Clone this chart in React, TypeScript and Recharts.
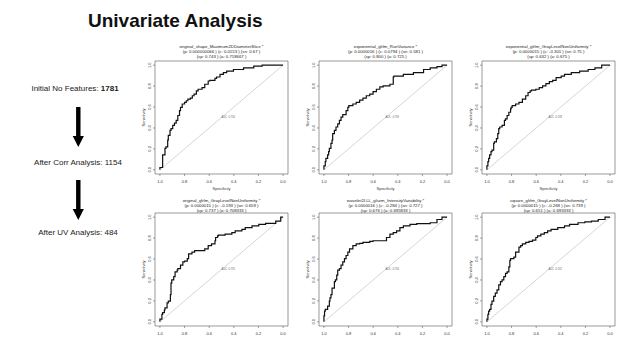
import { LineChart, Line, XAxis, YAxis, ReferenceArea, ReferenceLine, ReferenceDot } from "recharts";

const ticks = [0, 0.2, 0.4, 0.6, 0.8, 1];

// ROC curves (specificity, sensitivity)
const shapeSpec = [1.0, 0.978, 0.978, 0.959, 0.951, 0.937, 0.932, 0.918, 0.91, 0.896, 0.882, 0.868, 0.855, 0.841, 0.833, 0.819, 0.8, 0.786, 0.773, 0.753, 0.737, 0.723, 0.704, 0.69, 0.658, 0.636, 0.608, 0.595, 0.553, 0.54, 0.512, 0.485, 0.458, 0.403, 0.321, 0.238, 0.17, 0.06, 0.0];
const shapeSens = [0.0, 0.022, 0.126, 0.142, 0.204, 0.22, 0.283, 0.33, 0.377, 0.393, 0.425, 0.447, 0.472, 0.519, 0.566, 0.597, 0.629, 0.645, 0.66, 0.676, 0.686, 0.708, 0.723, 0.755, 0.77, 0.786, 0.818, 0.849, 0.855, 0.874, 0.887, 0.912, 0.928, 0.943, 0.959, 0.975, 0.991, 1.0, 1.0];

const runVarSpec = [1.0, 0.989, 0.984, 0.97, 0.962, 0.956, 0.943, 0.934, 0.929, 0.915, 0.902, 0.888, 0.874, 0.861, 0.847, 0.82, 0.806, 0.798, 0.765, 0.738, 0.71, 0.683, 0.656, 0.628, 0.601, 0.574, 0.546, 0.519, 0.464, 0.437, 0.432, 0.355, 0.273, 0.191, 0.137, 0.082, 0.041, 0.0];
const runVarSens = [0.0, 0.038, 0.079, 0.11, 0.142, 0.173, 0.204, 0.252, 0.283, 0.346, 0.377, 0.409, 0.44, 0.472, 0.503, 0.528, 0.566, 0.597, 0.613, 0.629, 0.645, 0.667, 0.686, 0.708, 0.723, 0.748, 0.77, 0.792, 0.802, 0.818, 0.887, 0.896, 0.912, 0.928, 0.959, 0.975, 0.987, 1.0];

const expGlnSpec = [1.0, 0.992, 0.986, 0.978, 0.967, 0.959, 0.945, 0.94, 0.923, 0.912, 0.904, 0.896, 0.877, 0.858, 0.849, 0.836, 0.822, 0.808, 0.803, 0.795, 0.767, 0.74, 0.712, 0.685, 0.666, 0.649, 0.638, 0.603, 0.575, 0.548, 0.521, 0.493, 0.466, 0.438, 0.397, 0.37, 0.315, 0.247, 0.178, 0.123, 0.068, 0.0];
const expGlnSens = [0.0, 0.038, 0.079, 0.11, 0.142, 0.173, 0.189, 0.252, 0.267, 0.299, 0.346, 0.393, 0.409, 0.425, 0.472, 0.487, 0.519, 0.55, 0.582, 0.597, 0.613, 0.629, 0.645, 0.676, 0.708, 0.739, 0.755, 0.761, 0.77, 0.786, 0.802, 0.824, 0.843, 0.855, 0.881, 0.896, 0.912, 0.928, 0.943, 0.959, 0.975, 1.0];

const origGlnSpec = [1.0, 0.984, 0.978, 0.964, 0.959, 0.942, 0.932, 0.915, 0.91, 0.904, 0.888, 0.877, 0.86, 0.855, 0.833, 0.814, 0.8, 0.778, 0.767, 0.74, 0.718, 0.677, 0.636, 0.608, 0.581, 0.553, 0.548, 0.532, 0.526, 0.471, 0.416, 0.389, 0.334, 0.307, 0.252, 0.197, 0.142, 0.06, 0.019, 0.0];
const origGlnSens = [0.0, 0.025, 0.072, 0.088, 0.113, 0.134, 0.181, 0.197, 0.259, 0.369, 0.4, 0.431, 0.478, 0.494, 0.509, 0.541, 0.572, 0.581, 0.603, 0.65, 0.666, 0.681, 0.681, 0.697, 0.728, 0.744, 0.775, 0.806, 0.822, 0.828, 0.838, 0.853, 0.869, 0.884, 0.9, 0.916, 0.931, 0.941, 0.963, 1.0];

const waveletSpec = [1.0, 0.995, 0.989, 0.97, 0.956, 0.951, 0.943, 0.934, 0.929, 0.915, 0.907, 0.896, 0.888, 0.874, 0.861, 0.847, 0.833, 0.82, 0.806, 0.792, 0.765, 0.738, 0.71, 0.683, 0.628, 0.601, 0.546, 0.492, 0.464, 0.437, 0.41, 0.383, 0.355, 0.301, 0.246, 0.137, 0.082, 0.041, 0.0];
const waveletSens = [0.0, 0.056, 0.103, 0.119, 0.15, 0.197, 0.228, 0.259, 0.322, 0.322, 0.384, 0.4, 0.447, 0.494, 0.509, 0.541, 0.572, 0.603, 0.634, 0.666, 0.697, 0.728, 0.744, 0.75, 0.759, 0.769, 0.775, 0.775, 0.806, 0.838, 0.853, 0.869, 0.9, 0.916, 0.931, 0.938, 0.947, 0.978, 1.0];

const squareSpec = [1.0, 0.992, 0.986, 0.978, 0.967, 0.959, 0.945, 0.932, 0.918, 0.904, 0.89, 0.877, 0.863, 0.849, 0.836, 0.822, 0.814, 0.808, 0.781, 0.767, 0.74, 0.726, 0.712, 0.685, 0.658, 0.63, 0.603, 0.589, 0.562, 0.534, 0.507, 0.479, 0.425, 0.37, 0.329, 0.26, 0.205, 0.151, 0.096, 0.041, 0.0];
const squareSens = [0.0, 0.025, 0.072, 0.103, 0.119, 0.166, 0.197, 0.244, 0.275, 0.306, 0.353, 0.384, 0.4, 0.431, 0.463, 0.478, 0.525, 0.588, 0.603, 0.619, 0.666, 0.713, 0.728, 0.744, 0.759, 0.769, 0.781, 0.806, 0.822, 0.838, 0.853, 0.869, 0.884, 0.9, 0.916, 0.931, 0.947, 0.956, 0.963, 0.978, 1.0];

const featureNames = [
  "original_shape_Maximum2DDiameterSlice *",
  "exponential_glrlm_RunVariance *",
  "exponential_glrlm_GrayLevelNonUniformity *",
  "original_glrlm_GrayLevelNonUniformity *",
  "wavelet2LLL_glszm_IntensityVariability *",
  "square_glrlm_GrayLevelNonUniformity *",
];
const statLines1 = [
  "(p: 0.000000066 ) (c: 0.0153 ) (sn: 0.67 )",
  "(p: 0.0000016 ) (c: 0.0794 ) (sn: 0.581 )",
  "(p: 0.0000015 ) (c: -0.301 ) (sn: 0.75 )",
  "(p: 0.0000015 ) (c: -0.193 ) (sn: 0.659 )",
  "(p: 0.0000016 ) (c: -0.284 ) (sn: 0.727 )",
  "(p: 0.0000015 ) (c: -0.268 ) (sn: 0.739 )",
];
const statLines2 = [
  "(sp: 0.743 ) (a: 0.718667 )",
  "(sp: 0.800 ) (a: 0.725 )",
  "(sp: 0.632 ) (a: 0.675 )",
  "(sp: 0.737 ) (a: 0.708333 )",
  "(sp: 0.676 ) (a: 0.695833 )",
  "(sp: 0.651 ) (a: 0.693333 )",
];
const aucLabels = ["AUC: 0.756", "AUC: 0.739", "AUC: 0.748", "AUC: 0.735", "AUC: 0.734", "AUC: 0.742"];

const curves = [
  [shapeSpec, shapeSens],
  [runVarSpec, runVarSens],
  [expGlnSpec, expGlnSens],
  [origGlnSpec, origGlnSens],
  [waveletSpec, waveletSens],
  [squareSpec, squareSens],
];

const frameLefts = [155, 319, 482];
const frameTops = [61, 213];
const titleTops = [46, 200];
const FRAME_W = 133;
const FRAME_H = 113;
const font = "'Liberation Sans', Arial, sans-serif";

const XTick = ({ x, y, payload }: any) => (
  <text x={x} y={y + 3} textAnchor="middle" dominantBaseline="central" fontSize={4} fill="#333" fontFamily={font}>
    {Number(payload.value).toFixed(1)}
  </text>
);

const YTick = ({ x, y, payload }: any) => (
  <text
    x={x - 1}
    y={y}
    transform={`rotate(-90, ${x - 1}, ${y})`}
    textAnchor="middle"
    dominantBaseline="central"
    fontSize={4}
    fill="#333"
    fontFamily={font}
  >
    {Number(payload.value).toFixed(1)}
  </text>
);

function RocPanel({ idx }: { idx: number }) {
  const left = frameLefts[idx % 3];
  const top = frameTops[Math.floor(idx / 3)];
  const titleY = titleTops[Math.floor(idx / 3)];
  const [spec, sens] = curves[idx];
  const data = spec.map((s, i) => ({ spec: s, sens: sens[i] }));

  return (
    <>
      <div
        style={{
          position: "absolute",
          left: left - 20,
          width: FRAME_W + 40,
          top: titleY - 2.5,
          textAlign: "center",
          fontSize: 4.3,
          lineHeight: "5px",
          color: "#222",
          fontFamily: font,
          whiteSpace: "nowrap",
        }}
      >
        {featureNames[idx]}
        <br />
        {statLines1[idx]}
        <br />
        {statLines2[idx]}
      </div>
      <div style={{ position: "absolute", left: left - 17, top: top - 2 }}>
        <LineChart width={17 + FRAME_W + 2} height={2 + FRAME_H + 18} data={data} margin={{ top: 2, right: 2, bottom: 0, left: 0 }}>
          <XAxis
            type="number"
            dataKey="spec"
            domain={[-0.04, 1.04]}
            ticks={ticks}
            reversed
            allowDataOverflow
            axisLine={false}
            tickSize={2}
            tickLine={{ stroke: "#444", strokeWidth: 0.5 }}
            height={18}
            tick={XTick}
            interval={0}
            label={{ value: "Specificity", position: "insideBottom", offset: 2, fontSize: 4, fill: "#333" }}
          />
          <YAxis
            type="number"
            domain={[-0.04, 1.04]}
            ticks={ticks}
            allowDataOverflow
            axisLine={false}
            tickSize={2}
            tickLine={{ stroke: "#444", strokeWidth: 0.5 }}
            width={17}
            tick={YTick}
            interval={0}
            label={{
              content: ({ viewBox }: any) => {
                const lx = viewBox.x + 5;
                const ly = viewBox.y + viewBox.height / 2;
                return (
                  <text
                    x={lx}
                    y={ly}
                    transform={`rotate(-90, ${lx}, ${ly})`}
                    textAnchor="middle"
                    dominantBaseline="central"
                    fontSize={4}
                    fill="#333"
                    fontFamily={font}
                  >
                    Sensitivity
                  </text>
                );
              },
            }}
          />
          <ReferenceArea x1={-0.04} x2={1.04} y1={-0.04} y2={1.04} fill="none" fillOpacity={0} stroke="#555" strokeWidth={0.6} ifOverflow="visible" />
          <ReferenceLine segment={[{ x: 1, y: 0 }, { x: 0, y: 1 }]} stroke="#c4c4c4" strokeWidth={0.7} />
          <ReferenceDot
            x={0.5}
            y={0.5}
            r={0.01}
            fill="none"
            stroke="none"
            label={{ value: aucLabels[idx], position: "right", offset: 0, fontSize: 2.6, fill: "#666" }}
          />
          <Line type="stepBefore" dataKey="sens" stroke="#111" strokeWidth={1.2} dot={false} isAnimationActive={false} />
        </LineChart>
      </div>
    </>
  );
}

function Arrow({ x, y1, y2 }: { x: number; y1: number; y2: number }) {
  const head = 11;
  return (
    <polygon
      points={`${x - 2.2},${y1} ${x + 2.2},${y1} ${x + 2.2},${y2 - head} ${x + 5.6},${y2 - head} ${x},${y2} ${x - 5.6},${y2 - head} ${x - 2.2},${y2 - head}`}
      fill="#000"
    />
  );
}

const flowText: React.CSSProperties = {
  position: "absolute",
  width: 150,
  textAlign: "center",
  fontSize: 8,
  lineHeight: "8px",
  color: "#222",
  fontFamily: font,
  whiteSpace: "nowrap",
};

export default function App() {
  return (
    <div style={{ position: "absolute", left: 0, top: 0, width: 623, height: 338, background: "#fff", overflow: "hidden", fontFamily: font }}>
      <div style={{ position: "absolute", left: 88, top: 11, fontSize: 19, lineHeight: "19px", fontWeight: "bold", color: "#111", whiteSpace: "nowrap" }}>
        Univariate Analysis
      </div>
      <div style={{ ...flowText, left: 75 - 75, top: 85 }}>
        Initial No Features: <b>1781</b>
      </div>
      <div style={{ ...flowText, left: 78 - 75, top: 159 }}>After Corr Analysis: 1154</div>
      <div style={{ ...flowText, left: 78 - 75, top: 229 }}>After UV Analysis: 484</div>
      <svg width={140} height={338} style={{ position: "absolute", left: 0, top: 0 }}>
        <Arrow x={78.3} y1={107} y2={147} />
        <Arrow x={78.3} y1={180} y2={220} />
      </svg>
      {[0, 1, 2, 3, 4, 5].map((i) => (
        <RocPanel key={i} idx={i} />
      ))}
    </div>
  );
}
